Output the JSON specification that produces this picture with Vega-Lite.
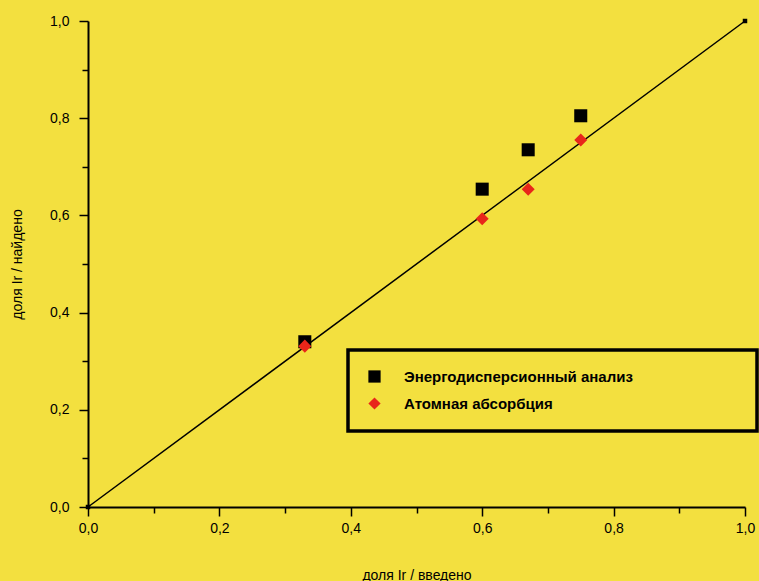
{
  "$schema": "https://vega.github.io/schema/vega-lite/v6.json",
  "width": 657,
  "height": 486,
  "autosize": {"type": "none"},
  "padding": {"left": 88, "top": 21, "right": 14, "bottom": 74},
  "background": "#F3E03F",
  "config": {
    "view": {"stroke": null},
    "font": "Liberation Sans",
    "legend": {"strokeWidth": 3.5},
    "axis": {
      "grid": false,
      "domainColor": "black",
      "domainWidth": 2,
      "tickColor": "black",
      "tickWidth": 1.5,
      "labelColor": "black",
      "labelFontSize": 14,
      "labelFont": "Liberation Sans",
      "titleColor": "black",
      "titleFontSize": 14,
      "titleFontWeight": "normal",
      "titleFont": "Liberation Sans"
    }
  },
  "datasets": {
    "diag": [
      {"x": 0, "y": 0},
      {"x": 1, "y": 1}
    ],
    "pts": [
      {"x": 0.33, "y": 0.34, "series": "Энергодисперсионный анализ"},
      {"x": 0.6, "y": 0.654, "series": "Энергодисперсионный анализ"},
      {"x": 0.67, "y": 0.735, "series": "Энергодисперсионный анализ"},
      {"x": 0.75, "y": 0.805, "series": "Энергодисперсионный анализ"},
      {"x": 0.33, "y": 0.331, "series": "Атомная абсорбция"},
      {"x": 0.6, "y": 0.593, "series": "Атомная абсорбция"},
      {"x": 0.67, "y": 0.654, "series": "Атомная абсорбция"},
      {"x": 0.75, "y": 0.755, "series": "Атомная абсорбция"}
    ]
  },
  "encoding": {
    "x": {
      "field": "x",
      "type": "quantitative",
      "scale": {"domain": [0, 1], "nice": false, "zero": false},
      "axis": {
        "title": "доля Ir / введено",
        "values": [0, 0.1, 0.2, 0.3, 0.4, 0.5, 0.6, 0.7, 0.8, 0.9, 1],
        "labelExpr": "round(datum.value*10)%2==0 ? replace(format(datum.value,'.1f'),'.',',') : ''",
        "tickSize": {"condition": {"test": "round(datum.value*10)%2==0", "value": 9}, "value": 6},
        "labelPadding": 5,
        "titlePadding": 33,
        "labelFlush": false
      }
    },
    "y": {
      "field": "y",
      "type": "quantitative",
      "scale": {"domain": [0, 1], "nice": false, "zero": false},
      "axis": {
        "title": "доля Ir / найдено",
        "values": [0, 0.1, 0.2, 0.3, 0.4, 0.5, 0.6, 0.7, 0.8, 0.9, 1],
        "labelExpr": "round(datum.value*10)%2==0 ? replace(format(datum.value,'.1f'),'.',',') : ''",
        "tickSize": {"condition": {"test": "round(datum.value*10)%2==0", "value": 9}, "value": 6},
        "labelPadding": 10,
        "titlePadding": 25,
        "labelFlush": false
      }
    }
  },
  "layer": [
    {
      "data": {"name": "diag"},
      "mark": {
        "type": "line",
        "color": "black",
        "strokeWidth": 1.5,
        "point": {"color": "black", "size": 20, "filled": true, "shape": "square"}
      }
    },
    {
      "data": {"name": "pts"},
      "mark": {"type": "point", "filled": true, "opacity": 1, "size": 170},
      "encoding": {
        "color": {
          "field": "series",
          "type": "nominal",
          "scale": {"domain": ["Энергодисперсионный анализ", "Атомная абсорбция"], "range": ["#000000", "#E8261A"]},
          "legend": {
            "orient": "none",
            "legendX": 260,
            "legendY": 329,
            "title": null,
            "strokeColor": "black",
            "padding": 19,
            "labelFontSize": 15,
            "labelFontWeight": "bold",
            "labelFont": "Liberation Sans",
            "labelColor": "black",
            "labelLimit": 0,
            "labelOffset": 22,
            "symbolSize": 150,
            "rowPadding": 11,
            "labelExpr": "datum.label + '\u00a0\u00a0\u00a0\u00a0\u00a0\u00a0\u00a0\u00a0\u00a0\u00a0\u00a0\u00a0\u00a0\u00a0\u00a0\u00a0\u00a0\u00a0\u00a0\u00a0\u00a0\u00a0\u00a0\u00a0\u00a0\u200b'"
          }
        },
        "shape": {
          "field": "series",
          "type": "nominal",
          "scale": {"domain": ["Энергодисперсионный анализ", "Атомная абсорбция"], "range": ["square", "diamond"]},
          "legend": null
        }
      }
    }
  ]
}
